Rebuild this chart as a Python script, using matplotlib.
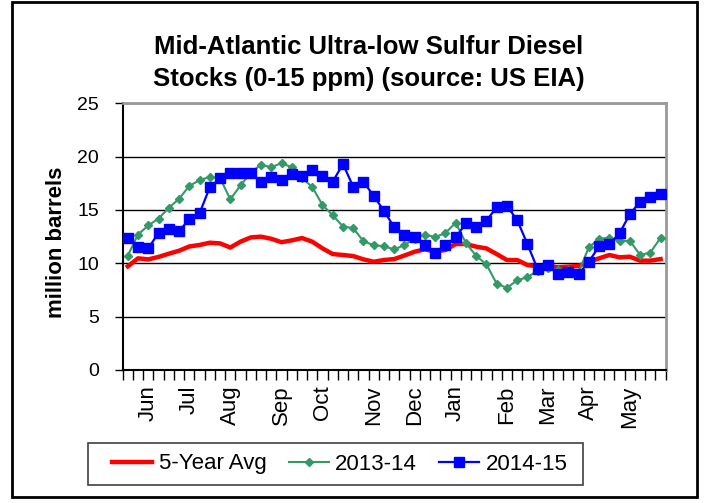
# Mid-Atlantic ULSD stocks chart
# -----------------------------------------------------------------------------

import numpy as np
import matplotlib.pyplot as plt
from matplotlib.patches import Rectangle

plt.rcParams['font.family'] = ['Liberation Sans', 'DejaVu Sans']

# Data (weekly, late May to late May, million barrels)
# -----------------------------------------------------------------------------

months = ["Jun", "Jul", "Aug", "Sep", "Oct", "Nov",
          "Dec", "Jan", "Feb", "Mar", "Apr", "May"]
month_weeks = [2, 6, 10, 15, 19, 24, 28, 32, 37, 41, 45, 49]

avg_5yr = [9.72, 10.47, 10.37, 10.6, 10.9, 11.18, 11.58, 11.72, 11.93, 11.87,
           11.48, 12.03, 12.43, 12.5, 12.3, 11.98, 12.15, 12.37, 12.03, 11.4,
           10.87, 10.78, 10.68, 10.37, 10.15, 10.31, 10.4, 10.73, 11.09, 11.31,
           11.09, 11.25, 11.81, 11.81, 11.56, 11.4, 10.87, 10.31, 10.31, 9.84,
           9.72, 9.75, 9.62, 9.69, 9.75, 10.15, 10.47, 10.78, 10.56, 10.62,
           10.25, 10.25, 10.4]

stocks_2013_14 = [10.73, 12.7, 13.55, 14.2, 15.2, 16.05, 17.25, 17.8, 18.1, 18.0,
                  16.0, 17.3, 18.5, 19.25, 19.0, 19.4, 19.0, 18.0, 17.15, 15.47,
                  14.5, 13.45, 13.3, 12.07, 11.7, 11.6, 11.3, 11.72, 12.3, 12.7,
                  12.45, 12.85, 13.8, 11.9, 10.7, 9.9, 8.1, 7.7, 8.4, 8.7,
                  9.3, 9.6, 9.4, 9.4, 9.2, 11.5, 12.3, 12.4, 12.1, 12.1,
                  10.8, 11.0, 12.4]

stocks_2014_15 = [12.34, 11.56, 11.4, 12.87, 13.19, 13.03, 14.12, 14.69, 17.12, 17.97,
                  18.5, 18.5, 18.44, 17.65, 18.09, 17.84, 18.37, 18.18, 18.75, 18.18,
                  17.65, 19.31, 17.18, 17.65, 16.31, 14.93, 13.37, 12.65, 12.43, 11.72,
                  11.0, 11.72, 12.43, 13.75, 13.44, 14.0, 15.25, 15.37, 14.06, 11.81,
                  9.45, 9.84, 9.03, 9.22, 9.0, 10.15, 11.6, 11.77, 12.84, 14.6,
                  15.78, 16.19, 16.53]

W, H = 721, 503

# Plot
# -----------------------------------------------------------------------------

fig = plt.figure(figsize=(W/100, H/100), dpi=100)
ax = fig.add_axes([122.7/W, 1-370/H, (665.7-122.7)/W, (370-103.3)/H])

weeks = np.arange(len(avg_5yr))
ax.plot(weeks, avg_5yr, color='#ff0000', lw=3.2, label='5-Year Avg', zorder=3)
ax.plot(weeks, stocks_2013_14, color='#339966', lw=1.5, marker='D', ms=4.5,
        label='2013-14', zorder=4)
ax.plot(weeks, stocks_2014_15, color='#0000ff', lw=1.6, marker='s', ms=7,
        label='2014-15', zorder=5)

ax.set_ylim(0, 25)
ax.set_yticks(range(0, 26, 5))
ax.set_xlim(-0.5, len(weeks)-0.5)
ax.set_xticks(month_weeks)
ax.set_xticklabels(months, rotation=90, fontsize=16)
ax.set_xticks(np.arange(-0.5, len(weeks)), minor=True)
ax.tick_params(axis='x', which='major', length=0, pad=11)
ax.tick_params(axis='x', which='minor', length=7, width=1, direction='out')
ax.tick_params(axis='y', length=6, width=1, direction='out', pad=11, labelsize=14)

ax.grid(axis='y', color='black', lw=1)
ax.set_axisbelow(True)
for side in ['top', 'right']:
    ax.spines[side].set_color('#999999')
    ax.spines[side].set_linewidth(2)
for side in ['left', 'bottom']:
    ax.spines[side].set_color('black')
    ax.spines[side].set_linewidth(1.5)

# Texts
fig.text(369/W, 1-47/H, "Mid-Atlantic Ultra-low Sulfur Diesel",
         ha='center', va='center', fontsize=18.5, fontweight='bold')
fig.text(369/W, 1-79/H, "Stocks (0-15 ppm) (source: US EIA)",
         ha='center', va='center', fontsize=18.5, fontweight='bold')
fig.text(56.7/W, 1-242.5/H, "million barrels", rotation=90,
         ha='center', va='center', fontsize=16, fontweight='bold')

# Legend with its own frame
fig.legend(loc='center', bbox_to_anchor=(340/W, 1-464/H), ncol=3,
           frameon=False, fontsize=16, handlelength=1.8, handletextpad=0.3,
           columnspacing=1.0)
fig.patches.append(Rectangle((88.3/W, 1-485/H), (582.7-88.3)/W, (485-442.7)/H,
                             transform=fig.transFigure, fill=False,
                             edgecolor='#404040', lw=1.2))

# Outer frame of the chart
fig.patches.append(Rectangle((12/W, 1-497/H), (697-12)/W, (497-2)/H,
                             transform=fig.transFigure, fill=False,
                             edgecolor='black', lw=2))

fig.savefig('out.png', dpi=100)
